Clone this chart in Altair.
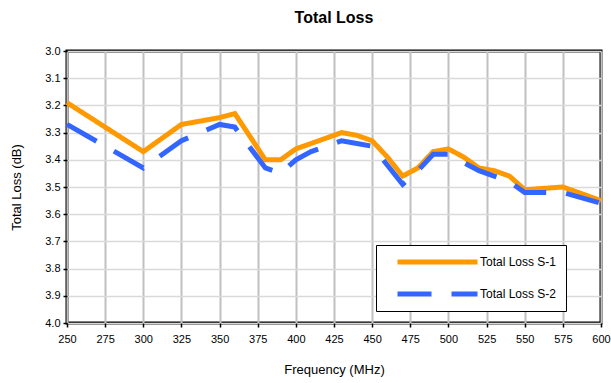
import altair as alt
import pandas as pd

# Measured total loss of two samples across the band
freq_mhz = [250, 300, 325, 350, 360, 380, 390, 400, 410, 420, 430, 440, 450,
            460, 470, 480, 490, 500, 510, 520, 530, 540, 550, 575, 600]
loss_s1 = [3.19, 3.37, 3.27, 3.245, 3.23, 3.40, 3.40, 3.36, 3.34, 3.32, 3.30, 3.31, 3.33,
           3.39, 3.46, 3.43, 3.37, 3.36, 3.39, 3.43, 3.44, 3.46, 3.51, 3.50, 3.55]
loss_s2 = [3.27, 3.43, 3.33, 3.27, 3.28, 3.43, 3.45, 3.40, 3.37, 3.35, 3.33, 3.34, 3.35,
           3.42, 3.49, 3.44, 3.38, 3.38, 3.41, 3.44, 3.46, 3.48, 3.52, 3.52, 3.56]
series_names = ["Total Loss S-1", "Total Loss S-2"]
series_colors = ["#FF9900", "#3366FF"]
series_dashes = [[1, 0], [34, 20]]

x_ticks = list(range(250, 601, 25))
y_ticks = [round(3.0 + 0.1 * i, 1) for i in range(11)]

rows = []
for name, values in zip(series_names, [loss_s1, loss_s2]):
    for f, v in zip(freq_mhz, values):
        rows.append({"Frequency": f, "Loss": v, "Series": name})
df = pd.DataFrame(rows)

FONT = "Liberation Sans"

chart = alt.Chart(df).mark_line(strokeWidth=5, strokeCap="butt", strokeJoin="miter").encode(
    x=alt.X("Frequency:Q",
            scale=alt.Scale(domain=[250, 600], nice=False, zero=False),
            axis=alt.Axis(values=x_ticks, title="Frequency (MHz)", format="d",
                          grid=True, gridColor="#C0C0C0", gridWidth=2,
                          labelFlush=False, labelOverlap=False,
                          labelPadding=6, titlePadding=19)),
    y=alt.Y("Loss:Q",
            scale=alt.Scale(domain=[3.0, 4.0], reverse=True, nice=False, zero=False),
            axis=alt.Axis(values=y_ticks, format=".1f", title="Total Loss (dB)",
                          grid=True, gridColor="#D9D9D9", gridWidth=1.5,
                          labelFlush=False, labelOverlap=False,
                          labelPadding=3, titlePadding=21)),
    color=alt.Color("Series:N",
                    scale=alt.Scale(domain=series_names, range=series_colors),
                    legend=alt.Legend(title=None, orient="none", legendX=309, legendY=194,
                                      symbolType="stroke", symbolSize=6400,
                                      symbolStrokeWidth=5, symbolOffset=10,
                                      clipHeight=16, rowPadding=16, labelOffset=0,
                                      labelExpr="datum.label + '\u00a0\u00a0\u00a0\u00a0\u00a0\u00a0\u00a0'",
                                      padding=9, strokeColor="black",
                                      fillColor="white", labelFontSize=12,
                                      labelColor="black", labelFont=FONT)),
    strokeDash=alt.StrokeDash("Series:N",
                              scale=alt.Scale(domain=series_names, range=series_dashes),
                              legend=None),
).properties(
    width=534,
    height=272,
    title=alt.Title("Total Loss", fontSize=16, fontWeight="bold", font=FONT,
                    anchor="middle", offset=19, color="black"),
    autosize=alt.AutoSizeParams(type="none"),
    padding={"left": 67, "top": 51, "right": 10, "bottom": 60},
).configure_view(
    stroke="black", strokeWidth=3,
).configure_axis(
    labelFont=FONT, titleFont=FONT, labelFontSize=11, titleFontSize=13,
    titleFontWeight="normal", labelColor="black", titleColor="black",
    domain=False, tickColor="black", tickSize=4, tickWidth=1.5,
)

chart.save("out.html", embed_options={"renderer": "svg", "actions": False})
